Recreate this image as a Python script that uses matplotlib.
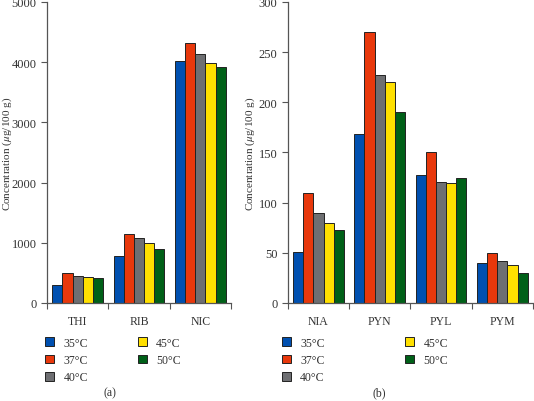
import numpy as np
import matplotlib.pyplot as plt
from matplotlib.ticker import FixedLocator, NullFormatter

plt.rcParams['font.family'] = ['Liberation Serif', 'DejaVu Serif']
plt.rcParams['mathtext.fontset'] = 'stix'

temps = ["35°C", "37°C", "40°C", "45°C", "50°C"]
colors = ["#0050b0", "#e8380c", "#6e6f72", "#ffe000", "#006018"]

cats_a = ["THI", "RIB", "NIC"]
vals_a = [
    [300, 780, 4020],   # 35
    [490, 1150, 4310],  # 37
    [450, 1080, 4140],  # 40
    [430, 1000, 3990],  # 45
    [420, 900, 3920],   # 50
]

cats_b = ["NIA", "PYN", "PYL", "PYM"]
vals_b = [
    [51, 168, 128, 40],
    [110, 270, 150, 50],
    [90, 227, 121, 42],
    [80, 220, 120, 38],
    [73, 190, 125, 30],
]

fig = plt.figure(figsize=(5.34, 4.02), dpi=100)
ax1 = fig.add_axes([0.088, 0.2438, 0.3446, 0.749])
ax2 = fig.add_axes([0.539, 0.2438, 0.459, 0.749])


def draw(ax, cats, vals, ymax, yticks, legend_x, colspace, label_x):
    n = len(cats)
    x = np.arange(n)
    w = 0.166
    for i, (t, c) in enumerate(zip(temps, colors)):
        ax.bar(x + (i - 2) * w, vals[i], w, color=c, edgecolor="#222222",
               linewidth=0.7, label=t)
    ax.set_xlim(-0.5, n - 0.5)
    ax.set_ylim(0, ymax)
    ax.set_yticks(yticks)
    ax.set_xticks(x)
    ax.set_xticklabels(cats)
    ax.tick_params(axis="x", length=0, pad=9, labelsize=8.5, colors="#333333")
    ax.xaxis.set_minor_locator(FixedLocator(np.arange(-0.5, n, 1.0)))
    ax.xaxis.set_minor_formatter(NullFormatter())
    ax.tick_params(axis="x", which="minor", length=4, width=0.8, color="#555555")
    ax.tick_params(axis="y", length=4, width=0.8, color="#555555",
                   labelsize=9, labelcolor="#333333")
    for s in ["top", "right"]:
        ax.spines[s].set_visible(False)
    for s in ["left", "bottom"]:
        ax.spines[s].set_color("#555555")
        ax.spines[s].set_linewidth(0.9)
    ax.set_ylabel("Concentration ($\\mu$g/100 g)", fontsize=8, color="#333333")
    ax.yaxis.set_label_coords(label_x, 0.5)
    leg = fig.legend(*ax.get_legend_handles_labels(), ncol=2, frameon=False,
                     loc="upper left", bbox_to_anchor=(legend_x, 0.16),
                     fontsize=8.5, handlelength=0.75, handleheight=0.75,
                     handletextpad=0.8, columnspacing=colspace, labelspacing=0.45,
                     borderaxespad=0, borderpad=0)
    for t in leg.get_texts():
        t.set_color("#333333")


draw(ax1, cats_a, vals_a, 5000, [0, 1000, 2000, 3000, 4000, 5000], 0.085, 4.2, -0.18)
draw(ax2, cats_b, vals_b, 300, [0, 50, 100, 150, 200, 250, 300], 0.528, 6.8, -0.125)

fig.text(0.205, 0.013, "(a)", fontsize=8.5, color="#333333", ha="center")
fig.text(0.71, 0.013, "(b)", fontsize=8.5, color="#333333", ha="center")

fig.savefig("out.png", dpi=100)
